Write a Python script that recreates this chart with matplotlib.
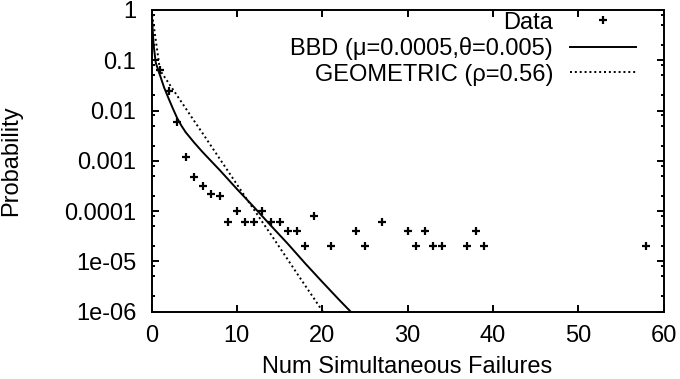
import numpy as np
import matplotlib
matplotlib.use('Agg')
import matplotlib.pyplot as plt
from matplotlib.ticker import FixedLocator, LogLocator, NullFormatter

plt.rcParams['font.family'] = ['Liberation Sans', 'DejaVu Sans']

# data points
data_x = [1, 2, 3, 4, 5, 6, 7, 8, 9, 10, 11, 12, 13, 14, 15, 16, 17, 18, 19,
          21, 24, 25, 27, 30, 31, 32, 33, 34, 37, 38, 39, 58]
data_y = [0.064, 0.025, 0.006, 0.0012, 0.00048, 0.00032, 0.00022, 0.0002,
          6e-5, 1e-4, 6e-5, 6e-5, 1e-4, 6e-5, 6e-5, 4e-5, 4e-5, 2e-5, 8e-5,
          2e-5, 4e-5, 2e-5, 6e-5, 4e-5, 2e-5, 4e-5, 2e-5, 2e-5, 2e-5, 4e-5,
          2e-5, 2e-5]

# BBD fit curve
bbd_x = [0, 0.25, 0.5, 1, 1.5, 2, 2.5, 3, 3.5, 4, 5, 6, 7, 8, 10, 12, 14,
         16, 18, 20, 22, 24]
bbd_y = [1.0, 0.2, 0.089, 0.05, 0.028, 0.0174, 0.011, 0.0071, 0.005,
         0.0037, 0.0023, 0.00148, 0.00098, 0.00065, 0.000275, 0.00012,
         5.1e-5, 2.2e-5, 9.1e-6, 3.9e-6, 1.7e-6, 7.6e-7]

# geometric fit curve
geo_x = list(range(0, 22))
geo_y = [1.0, 0.063, 0.0353, 0.0198, 0.0111, 0.0062, 0.0035, 0.00195,
         0.00109, 0.00061, 0.00034, 0.00019, 0.000107, 6.0e-5, 3.4e-5,
         1.9e-5, 1.06e-5, 5.9e-6, 3.3e-6, 1.86e-6, 1.04e-6, 5.8e-7]

ytick_vals = [1, 0.1, 0.01, 0.001, 0.0001, 1e-05, 1e-06]
ytick_labels = ['1', '0.1', '0.01', '0.001', '0.0001', '1e-05', '1e-06']
xtick_vals = [0, 10, 20, 30, 40, 50, 60]

fs = 17
fig = plt.figure(figsize=(6.8, 3.79), dpi=100)
ax = fig.add_axes([151.5 / 680, 1 - 311.5 / 379, 512 / 680, 301.5 / 379])

ax.plot(data_x, data_y, linestyle='none', marker='+', color='black',
        markersize=6, markeredgewidth=1.6, label='Data')
ax.plot(bbd_x, bbd_y, color='black', linewidth=1.4,
        label='BBD (\u03bc=0.0005,\u03b8=0.005)')
ax.plot(geo_x, geo_y, color='black', linewidth=1.4, linestyle=(0, (1, 1.5)),
        label='GEOMETRIC (\u03c1=0.56)')

ax.set_yscale('log')
ax.set_xlim(0, 60)
ax.set_ylim(1e-6, 1)
ax.yaxis.set_major_locator(FixedLocator(ytick_vals))
ax.set_yticklabels(ytick_labels)
ax.yaxis.set_minor_locator(LogLocator(base=10, subs=[2, 5, 8]))
ax.yaxis.set_minor_formatter(NullFormatter())
ax.set_xticks(xtick_vals)

ax.tick_params(which='both', direction='in', top=True, right=True,
               labelsize=fs, width=1.4)
ax.tick_params(axis='y', which='major', length=5, pad=11)
ax.tick_params(axis='y', which='minor', length=2.5)
ax.tick_params(axis='x', which='major', length=5, pad=10)
for s in ax.spines.values():
    s.set_linewidth(1.4)

ax.set_xlabel('Num Simultaneous Failures', fontsize=fs, labelpad=6)
ax.set_ylabel('Probability', fontsize=fs)
ax.yaxis.set_label_coords(-0.252, 0.5)

ax.legend(loc='upper right', bbox_to_anchor=(0.946, 0.995), frameon=False,
          fontsize=fs, markerfirst=False, borderpad=0, borderaxespad=0,
          handlelength=2.8, handletextpad=0.7, labelspacing=0.15)

fig.savefig('out.png', dpi=100)
